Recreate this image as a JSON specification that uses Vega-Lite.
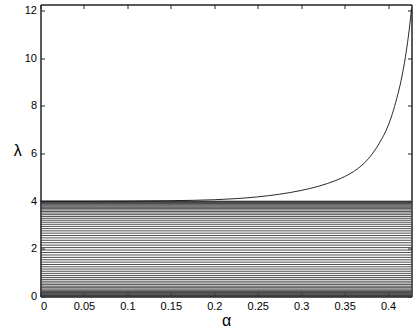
{
  "$schema": "https://vega.github.io/schema/vega-lite/v6.json",
  "autosize": "none",
  "width": 371,
  "height": 292,
  "padding": {"left": 40.5, "top": 4.5, "right": 3.5, "bottom": 34.5},
  "background": "white",
  "config": {
    "view": {"stroke": "#222", "strokeWidth": 1},
    "axis": {
      "labelFont": "Liberation Sans",
      "labelFontSize": 11,
      "labelColor": "#000",
      "titleFont": "Liberation Sans",
      "titleFontWeight": "normal",
      "titleColor": "#000",
      "domainColor": "#222",
      "tickColor": "#222",
      "grid": false,
      "tickSize": -4
    }
  },
  "layer": [
    {
      "data": {"values": [
        {"l": 0.00265}, {"l": 0.0106}, {"l": 0.0238}, {"l": 0.0423}, {"l": 0.0659},
        {"l": 0.0947}, {"l": 0.1286}, {"l": 0.1674}, {"l": 0.2110}, {"l": 0.2594},
        {"l": 0.3124}, {"l": 0.3699}, {"l": 0.4318}, {"l": 0.4977}, {"l": 0.5677},
        {"l": 0.6415}, {"l": 0.7188}, {"l": 0.7995}, {"l": 0.8835}, {"l": 0.9703},
        {"l": 1.0599}, {"l": 1.1520}, {"l": 1.2463}, {"l": 1.3427}, {"l": 1.4408},
        {"l": 1.5403}, {"l": 1.6411}, {"l": 1.7429}, {"l": 1.8456}, {"l": 1.9485},
        {"l": 2.0515}, {"l": 2.1544}, {"l": 2.2571}, {"l": 2.3589}, {"l": 2.4597},
        {"l": 2.5592}, {"l": 2.6573}, {"l": 2.7537}, {"l": 2.8480}, {"l": 2.9401},
        {"l": 3.0297}, {"l": 3.1165}, {"l": 3.2005}, {"l": 3.2812}, {"l": 3.3585},
        {"l": 3.4323}, {"l": 3.5023}, {"l": 3.5682}, {"l": 3.6301}, {"l": 3.6876},
        {"l": 3.7406}, {"l": 3.7890}, {"l": 3.8326}, {"l": 3.8714}, {"l": 3.9053},
        {"l": 3.9341}, {"l": 3.9577}, {"l": 3.9762}, {"l": 3.9894}, {"l": 3.99735}
      ]},
      "mark": {"type": "rule", "color": "#3a3a3a", "strokeWidth": 0.9},
      "encoding": {
        "y": {
          "field": "l", "type": "quantitative",
          "scale": {"domain": [0, 12.25], "nice": false, "zero": false},
          "axis": {
            "orient": "left",
            "values": [0, 2, 4, 6, 8, 10, 12],
            "labelPadding": 8,
            "title": "λ",
            "titleAngle": 0,
            "titleFontSize": 16,
            "titleAlign": "center",
            "titleBaseline": "middle",
            "titlePadding": 7
          }
        }
      }
    },
    {
      "data": {"name": "curve", "values": [
        {"a": 0, "l": 4.0}, {"a": 0.05, "l": 4.0005}, {"a": 0.1, "l": 4.005},
        {"a": 0.15, "l": 4.02}, {"a": 0.2, "l": 4.06}, {"a": 0.225, "l": 4.105},
        {"a": 0.25, "l": 4.18}, {"a": 0.275, "l": 4.29}, {"a": 0.3, "l": 4.449},
        {"a": 0.32, "l": 4.625}, {"a": 0.34, "l": 4.869}, {"a": 0.35, "l": 5.03},
        {"a": 0.36, "l": 5.234}, {"a": 0.37, "l": 5.507}, {"a": 0.38, "l": 5.896},
        {"a": 0.39, "l": 6.435}, {"a": 0.4, "l": 7.158}, {"a": 0.405, "l": 7.669},
        {"a": 0.41, "l": 8.306}, {"a": 0.415, "l": 9.053}, {"a": 0.42, "l": 10.05},
        {"a": 0.425, "l": 11.39}, {"a": 0.427, "l": 12.08}
      ]},
      "mark": {"type": "line", "color": "#111", "strokeWidth": 0.9, "interpolate": "monotone"},
      "encoding": {
        "x": {
          "field": "a", "type": "quantitative",
          "scale": {"domain": [0, 0.427], "nice": false, "zero": false},
          "axis": {
            "orient": "bottom",
            "values": [0, 0.05, 0.1, 0.15, 0.2, 0.25, 0.3, 0.35, 0.4],
            "format": "~g",
            "labelPadding": 8,
            "title": "α",
            "titleFontSize": 16,
            "titlePadding": 1
          }
        },
        "y": {
          "field": "l", "type": "quantitative",
          "axis": {
            "orient": "right",
            "values": [0, 2, 4, 6, 8, 10, 12],
            "labels": false,
            "title": null
          }
        }
      }
    },
    {
      "data": {"name": "curve"},
      "mark": {"type": "line", "opacity": 0},
      "encoding": {
        "x": {
          "field": "a", "type": "quantitative",
          "axis": {
            "orient": "top",
            "values": [0, 0.05, 0.1, 0.15, 0.2, 0.25, 0.3, 0.35, 0.4],
            "labels": false,
            "title": null
          }
        },
        "y": {"field": "l", "type": "quantitative", "axis": null}
      }
    }
  ],
  "resolve": {"axis": {"x": "independent", "y": "independent"}}
}
